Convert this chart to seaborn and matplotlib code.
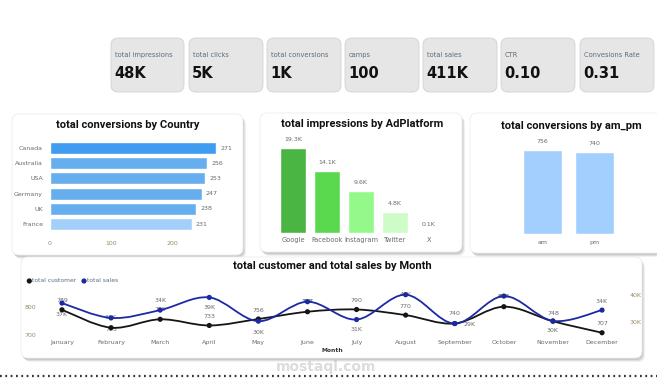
import numpy as np
import pandas as pd
import matplotlib
matplotlib.use("Agg")
import matplotlib.pyplot as plt
import seaborn as sns
from matplotlib.patches import FancyBboxPatch, PathPatch
from matplotlib.path import Path

# data
kpi_labels = ["total impressions", "total clicks", "total conversions", "camps",
              "total sales", "CTR", "Convesions Rate"]
kpi_values = ["48K", "5K", "1K", "100", "411K", "0.10", "0.31"]

countries = ["Canada", "Australia", "USA", "Germany", "UK", "France"]
country_conv = [271, 256, 253, 247, 238, 231]

platforms = ["Google", "Facebook", "Instagram", "Twitter", "X"]
platform_impr = [19300, 14100, 9600, 4800, 100]

ampm = ["am", "pm"]
ampm_conv = [756, 740]

months = ["January", "February", "March", "April", "May", "June", "July",
          "August", "September", "October", "November", "December"]
month_customers = [789, 725, 755, 733, 756, 782, 790, 770, 740, 800, 748, 707]
month_sales = [37000, 31500, 34400, 39100, 30300, 37500, 30900, 40100, 29400,
               39600, 30400, 34400]

W, H = 657, 379
AXC = "#9a8c6c"
LBL = "#6a6a6a"
TITLE_FONT = ["Roboto", "DejaVu Sans"]

sns.set_style("white")
plt.rcParams["font.family"] = ["DejaVu Sans"]

fig = plt.figure(figsize=(W / 100, H / 100), dpi=100)
fig.patch.set_facecolor("white")


def frect(x0, y0, x1, y1):
    return [x0 / W, 1 - y1 / H, (x1 - x0) / W, (y1 - y0) / H]


bg = fig.add_axes([0, 0, 1, 1])
bg.set_xlim(0, W)
bg.set_ylim(H, 0)
bg.axis("off")


def panel(x0, y0, x1, y1, r=7, fc="white", ec="#ececec", shadow=True):
    if shadow:
        for k, a in [(4, 0.12), (3, 0.18), (2, 0.25)]:
            bg.add_patch(FancyBboxPatch((x0 + k - 1, y0 + k), x1 - x0, y1 - y0,
                                        boxstyle=f"round,pad=0,rounding_size={r}",
                                        fc="#8c8c8c", ec="none", alpha=a))
    bg.add_patch(FancyBboxPatch((x0, y0), x1 - x0, y1 - y0,
                                boxstyle=f"round,pad=0,rounding_size={r}",
                                fc=fc, ec=ec, lw=0.6))


# KPI cards
card_x = [(111, 184), (189, 263), (267, 341), (345, 419), (423, 497), (501, 575), (580, 654)]
for (x0, x1), lab, val in zip(card_x, kpi_labels, kpi_values):
    panel(x0, 38, x1, 92, r=7, fc="#e6e6e6", ec="#d2d2d2", shadow=False)
    bg.text(x0 + 4, 55, lab, fontsize=4.8, color="#5b6b7c", va="center")
    bg.text(x0 + 3, 73, val, fontsize=10.5, fontweight="bold", color="#111111", va="center")

# panels
panel(12, 114, 243, 255)
panel(260, 113, 462, 252)
panel(470, 113, 668, 253)
panel(21, 257, 642, 358)

title_kw = dict(fontsize=8, fontweight="bold", family=TITLE_FONT, ha="center",
                va="center", color="#111111")
bg.text(128, 125, "total conversions by Country", **title_kw)
bg.text(362, 124, "total impressions by AdPlatform", **title_kw)
bg.text(571, 126, "total conversions by am_pm", **title_kw)
bg.text(332, 266, "total customer and total sales by Month", **title_kw)

# watermark
bg.text(326, 367, "mostaql.com", fontsize=10, fontweight="bold", color="#dcdcdc",
        ha="center", va="center", zorder=0.5)

# dotted separator at bottom
bg.plot([0, W], [376, 376], color="#333333", lw=1.6, ls=(0, (0.8, 1.6)))


def clean(ax):
    ax.set_facecolor("none")
    for s in ax.spines.values():
        s.set_visible(False)
    ax.tick_params(length=0)
    ax.set_xlabel("")
    ax.set_ylabel("")


# conversions by country
ax1 = fig.add_axes(frect(50, 140.4, 228, 231.6))
country_cols = ["#3f9cf0", "#66aeee", "#66aeee", "#66aeee", "#66aeee", "#a2d0fb"]
df_c = pd.DataFrame({"country": countries, "conv": country_conv})
sns.barplot(data=df_c, x="conv", y="country", hue="country", palette=country_cols,
            legend=False, width=0.8, saturation=1, ax=ax1)
clean(ax1)
ax1.set_xlim(0, 290)
ax1.set_xticks([0, 100, 200])
ax1.tick_params(axis="x", labelsize=4.5, labelcolor=AXC, pad=7)
ax1.tick_params(axis="y", labelsize=4.5, labelcolor=LBL, pad=5)
for c in ax1.containers:
    ax1.bar_label(c, fontsize=4.5, color=LBL, padding=3)

# impressions by platform
ax2 = fig.add_axes(frect(276, 140, 446, 233))
plat_cols = ["#4bb543", "#5ad94f", "#94f98a", "#cdfcc6", "#d5e9ff"]
df_p = pd.DataFrame({"platform": platforms, "impr": platform_impr})
sns.barplot(data=df_p, x="platform", y="impr", hue="platform", palette=plat_cols,
            legend=False, width=0.76, saturation=1, ax=ax2)
clean(ax2)
ax2.set_ylim(0, 21100)
ax2.set_yticks([])
ax2.tick_params(axis="x", labelsize=4.8, labelcolor=LBL, pad=3)
for c in ax2.containers:
    ax2.bar_label(c, labels=[f"{v / 1000:.1f}K" for v in c.datavalues],
                  fontsize=4.5, color=LBL, padding=4)

# conversions by am/pm
ax3 = fig.add_axes(frect(516, 140, 621, 234))
df_a = pd.DataFrame({"ampm": ampm, "conv": ampm_conv})
sns.barplot(data=df_a, x="ampm", y="conv", color="#a3cffe", width=0.74,
            saturation=1, ax=ax3)
clean(ax3)
ax3.set_ylim(0, 846)
ax3.set_yticks([])
ax3.tick_params(axis="x", labelsize=4.5, labelcolor=LBL, pad=4)
for c in ax3.containers:
    ax3.bar_label(c, fontsize=4.5, color=LBL, padding=4)

# customers and sales by month
ax4 = fig.add_axes(frect(49.7, 290, 614.3, 336))
ax5 = ax4.twinx()
x = np.arange(len(months))
ax4.set_xlim(-0.25, 11.25)
ax4.set_ylim(695.4, 859.6)
ax5.set_ylim(24800, 41850)


def smooth_path(xs, ys):
    xs = np.asarray(xs, float)
    ys = np.asarray(ys, float)
    verts = [(xs[0], ys[0])]
    codes = [Path.MOVETO]
    n = len(xs)
    for i in range(n - 1):
        i0, i3 = max(i - 1, 0), min(i + 2, n - 1)
        c1 = (xs[i] + (xs[i + 1] - xs[i0]) / 6, ys[i] + (ys[i + 1] - ys[i0]) / 6)
        c2 = (xs[i + 1] - (xs[i3] - xs[i]) / 6, ys[i + 1] - (ys[i3] - ys[i]) / 6)
        verts += [c1, c2, (xs[i + 1], ys[i + 1])]
        codes += [Path.CURVE4] * 3
    return Path(verts, codes)


BLUE = "#1b2aa3"
BLACK = "#151515"
ax4.add_patch(PathPatch(smooth_path(x, month_customers), fc="none", ec=BLACK, lw=1.3, zorder=3))
ax5.add_patch(PathPatch(smooth_path(x, month_sales), fc="none", ec=BLUE, lw=1.3, zorder=3))
sns.scatterplot(x=x, y=month_customers, color=BLACK, s=14, edgecolor="none", zorder=4, ax=ax4)
sns.scatterplot(x=x, y=month_sales, color=BLUE, s=14, edgecolor="none", zorder=4, ax=ax5)

cust_dy = [9, -2, 10, 9, 9, 10, 9, 9, 10, 10, 8, 9.5]
sales_off = [(0, -11), (0, 0), (0, 10), (0, -10), (0, -11), (0, 0), (0, -10), (0, 0),
             (15, -1), (0, 0), (0, -10), (0, 9)]
for i in range(len(months)):
    ax4.annotate(f"{month_customers[i]}", (x[i], month_customers[i]),
                 xytext=(0, cust_dy[i] * 0.72), textcoords="offset points",
                 ha="center", va="center", fontsize=4.5, color=LBL, zorder=2)
    dx, dy = sales_off[i]
    ax5.annotate(f"{month_sales[i] / 1000:.0f}K", (x[i], month_sales[i]),
                 xytext=(dx * 0.72, dy * 0.72), textcoords="offset points",
                 ha="center", va="center", fontsize=4.5, color=LBL, zorder=2)

for a in (ax4, ax5):
    clean(a)
ax4.set_xticks(x)
ax4.set_xticklabels(months)
ax4.tick_params(axis="x", labelsize=4.5, labelcolor=LBL, pad=3)
ax4.set_yticks([700, 800])
ax4.tick_params(axis="y", labelsize=4.5, labelcolor=AXC, pad=10)
ax5.set_yticks([30000, 40000])
ax5.set_yticklabels(["30K", "40K"])
ax5.tick_params(axis="y", labelsize=4.5, labelcolor=AXC, pad=11)
ax4.set_xlabel("Month", fontsize=4.3, fontweight="bold", color="#333333", labelpad=2)

# legend drawn by hand so the entries sit like the dashboard's
for mx, tx, col, name in [(29.3, 32.5, BLACK, "total customer"), (84, 87.2, BLUE, "total sales")]:
    bg.scatter([mx], [281], s=14, color=col, edgecolor="none")
    bg.text(tx, 281, name, fontsize=4.3, color="#5b6b7c", va="center")

fig.savefig("out.png", dpi=100)
